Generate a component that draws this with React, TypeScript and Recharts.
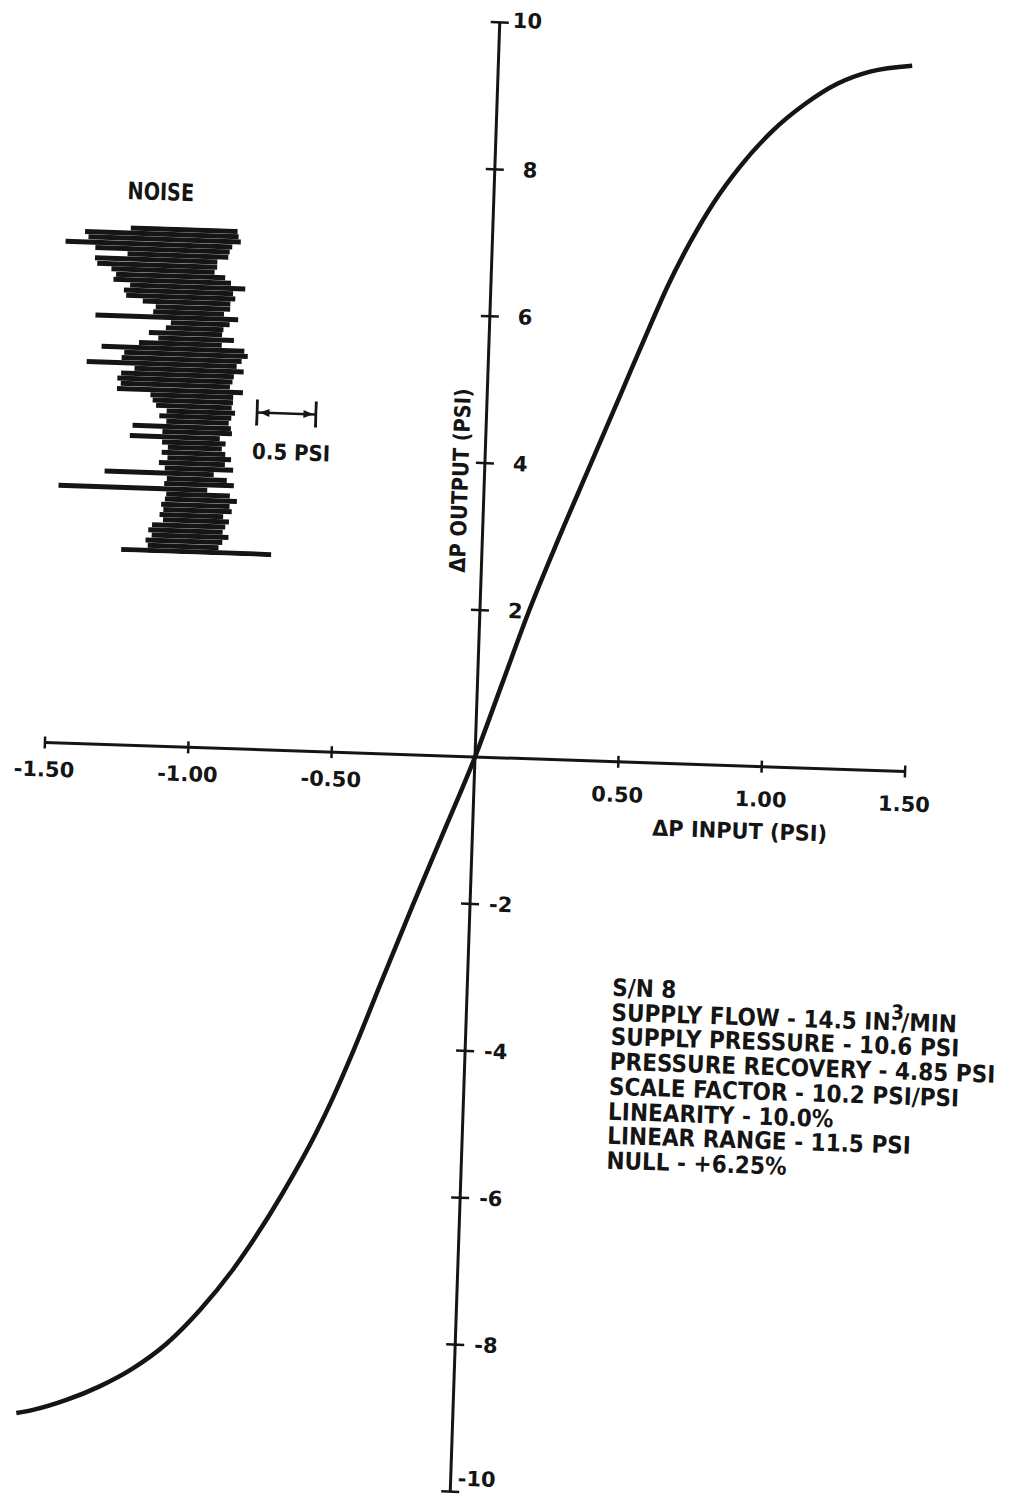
import { LineChart, Line, XAxis, YAxis, ReferenceLine, ReferenceDot, BarChart, Bar } from 'recharts';

// transfer curve (input psi -> output psi)
const inputPsi = [
  -1.521, -1.463, -1.348, -1.234, -1.12, -1.006, -0.894, -0.783, -0.728, -0.619, -0.509, -0.455,
  -0.392, -0.3, -0.2, -0.1, 0, 0.085, 0.17, 0.265, 0.365, 0.47, 0.56, 0.617, 0.692, 0.767, 0.854,
  0.963, 1.073, 1.183, 1.296, 1.442,
];
const outputPsi = [
  -9.13, -9.08, -8.93, -8.73, -8.47, -8.12, -7.65, -7.08, -6.75, -6.02, -5.18, -4.7,
  -4.08, -3.1, -2.05, -1.03, 0, 1.0, 2.0, 3.0, 4.0, 5.05, 5.95, 6.5, 7.12, 7.65, 8.15,
  8.65, 9.03, 9.32, 9.5, 9.6,
];

const xTicks = [-1.5, -1.0, -0.5, 0.5, 1.0, 1.5];
const yTicks = [-10, -8, -6, -4, -2, 2, 4, 6, 8, 10];

// noise trace, one horizontal sweep per row (psi from the left edge of the inset)
const noiseLeft = [
  0.71, 0.33, 0.36, 0.17, 0.42, 0.69, 0.42, 0.44, 0.56, 0.6, 0.58, 0.72, 0.67, 0.69, 0.83, 0.94,
  0.92, 0.44, 1.07, 1.03, 0.89, 0.97, 0.81, 0.5, 0.69, 0.67, 0.38, 0.78, 0.67, 0.64, 0.67, 0.64,
  0.92, 0.94, 0.97, 1.06, 1.0, 1.06, 0.78, 1.03, 0.76, 1.03, 1.08, 1.03, 1.08, 1.01, 1.06, 0.56,
  1.08, 1.06, 0.18, 1.08, 1.07, 1.04, 1.06, 1.03, 1.06, 0.97, 0.94, 0.97, 0.92, 0.94, 0.72,
];
const noiseRight = [
  1.6, 1.61, 1.63, 1.56, 1.54, 1.53, 1.44, 1.44, 1.42, 1.51, 1.56, 1.68, 1.58, 1.6, 1.56, 1.56,
  1.51, 1.63, 1.56, 1.51, 1.5, 1.6, 1.5, 1.69, 1.72, 1.67, 1.63, 1.69, 1.61, 1.6, 1.58, 1.69,
  1.61, 1.61, 1.6, 1.63, 1.6, 1.58, 1.6, 1.61, 1.51, 1.56, 1.53, 1.56, 1.61, 1.56, 1.63, 1.47,
  1.58, 1.64, 1.42, 1.61, 1.67, 1.61, 1.63, 1.56, 1.61, 1.58, 1.56, 1.61, 1.56, 1.53, 1.97,
];

const infoLines = [
  'S/N 8',
  'SUPPLY FLOW - 14.5 IN',
  'SUPPLY PRESSURE - 10.6 PSI',
  'PRESSURE RECOVERY - 4.85 PSI',
  'SCALE FACTOR - 10.2 PSI/PSI',
  'LINEARITY - 10.0%',
  'LINEAR RANGE - 11.5 PSI',
  'NULL - +6.25%',
];

const INK = '#151515';
const FONT = '"DejaVu Sans", Verdana, sans-serif';

const curve = inputPsi.map((x, i) => ({ x, y: outputPsi[i] }));
const noiseRows = noiseLeft.map((lo, i) => ({ row: i, span: [lo, noiseRight[i]] }));

const tickText = { fontFamily: FONT, fontWeight: 700, fontSize: 21, fill: INK };

function XTick(props: any) {
  const { cx, cy, value } = props;
  return (
    <g>
      <line x1={cx} y1={cy - 6} x2={cx} y2={cy + 6} stroke={INK} strokeWidth={2.5} />
      <text x={cx} y={cy + (value < 0 ? 27 : 33)} textAnchor="middle" dominantBaseline="central" style={tickText}>
        {value.toFixed(2)}
      </text>
    </g>
  );
}

function YTick(props: any) {
  const { cx, cy, value } = props;
  let dx = value > 0 ? 28 : 19;
  let dy = 0;
  if (value === 10) { dx = 13; dy = -2; }
  if (value === -10) { dx = 7; dy = -13; }
  return (
    <g>
      <line x1={cx - 9} y1={cy} x2={cx + 9} y2={cy} stroke={INK} strokeWidth={2.5} />
      <text x={cx + dx} y={cy + dy} textAnchor="start" dominantBaseline="central" style={tickText}>
        {value}
      </text>
    </g>
  );
}

const abs = (left: number, top: number): React.CSSProperties => ({
  position: 'absolute',
  left,
  top,
  whiteSpace: 'nowrap',
  color: INK,
  fontFamily: FONT,
  fontWeight: 700,
});

export default function App() {
  return (
    <div style={{ position: 'absolute', left: 0, top: 0, width: 1012, height: 1507, overflow: 'hidden', background: '#fff' }}>
      <div style={{ position: 'absolute', left: 0, top: 0, width: 1012, height: 1507, transform: 'rotate(1.93deg)', transformOrigin: '475px 757px' }}>
        {/* main transfer curve */}
        <div style={{ position: 'absolute', left: 0, top: 0 }}>
          <LineChart width={1012} height={1507} data={curve} margin={{ top: 22, right: 78, bottom: 15, left: 16 }}>
            <XAxis type="number" dataKey="x" domain={[-1.6, 1.6]} hide allowDataOverflow />
            <YAxis type="number" domain={[-10, 10]} hide allowDataOverflow />
            <ReferenceLine segment={[{ x: -1.5, y: 0 }, { x: 1.5, y: 0 }]} stroke={INK} strokeWidth={3} />
            <ReferenceLine segment={[{ x: 0, y: -10 }, { x: 0, y: 10 }]} stroke={INK} strokeWidth={3} />
            {xTicks.map((t) => (
              <ReferenceDot key={'x' + t} x={t} y={0} r={0} shape={(p: any) => <XTick {...p} value={t} />} />
            ))}
            {yTicks.map((t) => (
              <ReferenceDot key={'y' + t} x={0} y={t} r={0} shape={(p: any) => <YTick {...p} value={t} />} />
            ))}
            <Line dataKey="y" type="monotone" stroke={INK} strokeWidth={4.5} dot={false} isAnimationActive={false} />
          </LineChart>
        </div>

        {/* axis titles */}
        <div style={{ ...abs(451, 481), fontSize: 22, transform: 'translate(-50%, -50%) rotate(-90deg) scaleX(0.88)' }}>
          ΔP OUTPUT (PSI)
        </div>
        <div style={{ ...abs(742, 822), fontSize: 22, transform: 'translate(-50%, -50%) scaleX(0.95)' }}>
          ΔP INPUT (PSI)
        </div>

        {/* noise inset */}
        <div style={{ ...abs(142, 203), fontSize: 24, transform: 'translate(-50%, -50%) scaleX(0.8)' }}>NOISE</div>
        <div style={{ position: 'absolute', left: 28, top: 237 }}>
          <BarChart width={240} height={327} data={noiseRows} layout="vertical" margin={{ top: 0, right: 0, bottom: 0, left: 0 }} barCategoryGap={0.3}>
            <XAxis type="number" domain={[0, 2]} hide />
            <YAxis type="category" dataKey="row" hide />
            <Bar dataKey="span" fill={INK} isAnimationActive={false} />
          </BarChart>
        </div>
        <svg style={{ position: 'absolute', left: 244, top: 405 }} width={62} height={30}>
          <line x1={1.5} y1={2} x2={1.5} y2={28} stroke={INK} strokeWidth={3} />
          <line x1={60.5} y1={2} x2={60.5} y2={28} stroke={INK} strokeWidth={3} />
          <line x1={2} y1={15} x2={60} y2={15} stroke={INK} strokeWidth={2.5} />
          <polygon points="4,15 14,11 14,19" fill={INK} />
          <polygon points="58,15 48,11 48,19" fill={INK} />
        </svg>
        <div style={{ ...abs(281, 459), fontSize: 22, transform: 'translate(-50%, -50%) scaleX(0.9)' }}>0.5 PSI</div>

        {/* test conditions */}
        <div style={{ ...abs(620, 971), fontSize: 24, lineHeight: '24.7px', transform: 'scaleX(0.9)', transformOrigin: 'left top' }}>
          {infoLines.map((s, i) => (
            <div key={i}>
              {s}
              {i === 1 && (
                <>
                  <span style={{ display: 'inline-block', position: 'relative', width: '0.5em' }}>
                    .
                    <span style={{ position: 'absolute', left: '0.02em', top: '-0.5em', fontSize: '0.85em' }}>3</span>
                  </span>
                  /MIN
                </>
              )}
            </div>
          ))}
        </div>
      </div>
    </div>
  );
}
